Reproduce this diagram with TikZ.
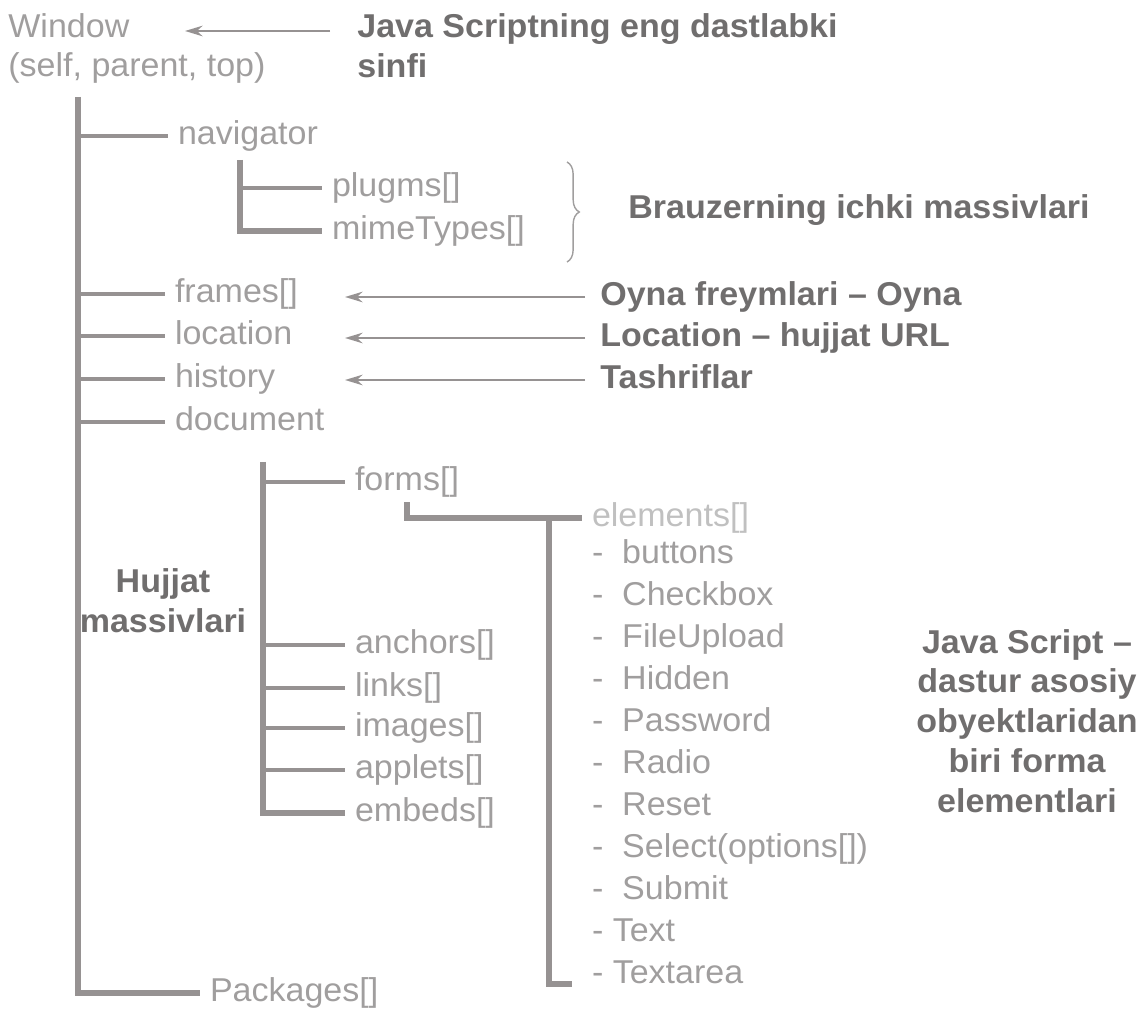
\documentclass[tikz,border=0pt]{standalone}
\usepackage{fontspec}
\setmainfont{Liberation Sans}[FakeStretch=1.03]
\usepackage{xcolor}
\usepackage{tikz}
\usetikzlibrary{arrows.meta,decorations.pathreplacing}
\definecolor{lgray}{RGB}{160,158,158}
\definecolor{egray}{RGB}{192,192,192}
\definecolor{ngray}{RGB}{112,110,110}
\definecolor{tgray}{RGB}{150,146,146}
\tikzset{
leaf/.style={anchor=west,text=lgray,font=\fontsize{18.8}{22.7}\selectfont,inner xsep=5.5pt,inner ysep=0pt,text height=0.34cm,text depth=0pt},
note/.style={text=ngray,font=\fontsize{18.8}{22.7}\selectfont\bfseries,inner sep=0pt},
line/.style={anchor=west,text height=0.34cm,text depth=0pt},
trunk/.style={draw=tgray,line width=3.4pt},
twig/.style={draw=tgray,line width=2.8pt},
pointer/.style={draw=tgray,line width=1.3pt,-{Stealth[length=10pt,width=6pt]}}
}
\begin{document}
\begin{tikzpicture}[x=0.02cm,y=-0.02cm]
\useasboundingbox(0,0)rectangle(1143,1013);
% window and its children
\node[leaf,inner xsep=0pt](win)at(8,29){Window};
\node[leaf,inner xsep=0pt](par)at(8,68){(self, parent, top)};
\node[note,anchor=north west,align=left](jsnote)at(357,13){Java Scriptning eng dastlabki\\sinfi};
\coordinate(wintip)at(185,31);
\draw[pointer](jsnote.north west|-wintip)++(-27,0)--(wintip);
\coordinate(wtop)at(78,97);
\node[leaf](nav)at(168,136){navigator};
\node[leaf](frm)at(165,294){frames[]};
\node[leaf](loc)at(165,336){location};
\node[leaf](his)at(165,379){history};
\node[leaf](doc)at(165,422){document};
\node[leaf](pkg)at(200,993){Packages[]};
\draw[trunk](wtop)--(wtop|-pkg.west)--(pkg.west);
\foreach \n in {nav,frm,loc,his,doc}
  \draw[twig](wtop|-\n.west)--(\n.west);
% navigator
\coordinate(ntop)at(240,160);
\node[leaf](plug)at(322,188){plugms[]};
\node[leaf](mime)at(322,231){mimeTypes[]};
\draw[trunk](ntop)--(ntop|-mime.west)--(mime.west);
\draw[twig](ntop|-plug.west)--(plug.west);
\draw[lgray,line width=0.8pt,decorate,decoration={brace,amplitude=7pt}](567,162)--(567,262);
\node[note,line](brnote)at(628,210){Brauzerning ichki massivlari};
% pointers to frames, location, history
\coordinate(tip)at(345,0);
\node[note,line](frnote)at(600,297){Oyna freymlari – Oyna};
\node[note,line](lcnote)at(600,338){Location – hujjat URL};
\node[note,line](hsnote)at(600,380){Tashriflar};
\foreach \n in {frnote,lcnote,hsnote}
  \draw[pointer](\n.west)++(-15,0)--(\n.west-|tip);
% document arrays
\coordinate(dtop)at(263,462);
\node[leaf](frms)at(345,482){forms[]};
\foreach \n/\t/\y in {anc/anchors[]/645,lnk/links[]/688,img/images[]/728,apl/applets[]/770,emb/embeds[]/813}
  \node[leaf](\n)at(345,\y){\t};
\draw[trunk](dtop)--(dtop|-emb.west)--(emb.west);
\foreach \n in {frms,anc,lnk,img,apl}
  \draw[twig](dtop|-\n.west)--(\n.west);
\node[note,align=center](hjnote)at(163,601){Hujjat\\massivlari};
% form elements
\coordinate(ftop)at(407,502);
\node[leaf,text=egray](elem)at(582,518){elements[]};
\draw[trunk](ftop)--(ftop|-elem.west)--(elem.west);
\foreach \t [count=\i] in {- \ buttons,- \ Checkbox,- \ FileUpload,- \ Hidden,- \ Password,- \ Radio,- \ Reset,- \ Select(options[]),- \ Submit,- Text,- Textarea}
  \node[leaf](el\i)at(582,513+42*\i){\t};
\coordinate(etop)at(549,518);
\draw[trunk](etop)--(etop|-el11.south)--++(23,0);
\node[note,align=center](fmnote)at(1027,721){Java Script –\\dastur asosiy\\obyektlaridan\\biri forma\\elementlari};
\end{tikzpicture}
\end{document}
